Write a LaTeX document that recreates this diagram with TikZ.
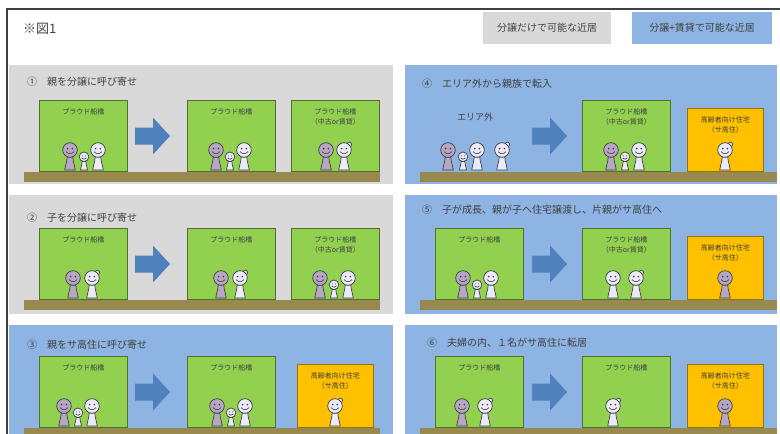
\documentclass[tikz,border=0pt]{standalone}
\usepackage{fontspec}
\setmainfont{Noto Sans CJK JP}
\definecolor{ink}{RGB}{64, 64, 64}
\definecolor{panelgrey}{RGB}{217, 217, 217}
\definecolor{panelblue}{RGB}{141, 180, 226}
\definecolor{flatgreen}{RGB}{146, 208, 80}
\definecolor{flatedge}{RGB}{84, 112, 44}
\definecolor{senior}{RGB}{255, 192, 0}
\definecolor{senioredge}{RGB}{150, 112, 20}
\definecolor{soil}{RGB}{152, 137, 78}
\definecolor{movearrow}{RGB}{79, 129, 189}
\definecolor{dadskin}{RGB}{182, 166, 196}
\definecolor{paleskin}{RGB}{234, 234, 248}
\usepackage{tikz}
\usetikzlibrary{positioning}
\tikzset{
  panel/.style={anchor=north west, inner sep=0, minimum width=384pt, minimum height=119pt},
  widepanel/.style={panel, minimum width=372pt},
  legend/.style={inner sep=0, minimum height=32pt, text=ink, font=\fontsize{10}{12}\selectfont},
  title/.style={anchor=west, inner sep=0, text=ink, font=\fontsize{10}{12}\selectfont},
  flat/.style={anchor=south west, fill=flatgreen, draw=flatedge, line width=.8pt,
    inner sep=0, minimum width=88pt, minimum height=71pt},
  home/.style={anchor=south west, fill=senior, draw=senioredge, line width=.8pt,
    inner sep=0, minimum width=76pt, minimum height=63pt},
  caption/.style={inner sep=0, align=center, text=ink, font=\fontsize{7}{10.5}\selectfont},
  ground/.style={anchor=north west, fill=soil, inner sep=0, minimum height=10pt},
  adult/.pic={
    \filldraw[fill=#1, draw=ink, line width=.7pt]
      (-2.8,-13) .. controls (-3.2,-6) and (-5.2,-4) .. (-5.3,0)
      -- (5.3,0) .. controls (5.2,-4) and (3.2,-6) .. (2.8,-13) -- cycle;
    \filldraw[fill=#1, draw=ink, line width=.7pt] (0,-20) circle (7.3pt);
    \fill[ink] (-2.3,-21.4) circle (.9pt) (2.3,-21.4) circle (.9pt);
    \draw[ink, line width=.6pt] (-3.8,-18.4) .. controls (-2,-15.6) and (2,-15.6) .. (3.8,-18.4);
  },
  kid/.pic={\pic[scale=.66] {adult=paleskin};},
  granny/.pic={
    \filldraw[fill=paleskin, draw=ink, line width=.7pt] (5.4,-25.6) circle (2.2pt);
    \pic {adult=paleskin};
  },
  bigarrow/.pic={
    \fill[movearrow] (0,8.5) -- (18,8.5) -- (18,18.5) -- (35,0)
      -- (18,-18.5) -- (18,-8.5) -- (0,-8.5) -- cycle;
  }
}

\begin{document}
\begin{tikzpicture}[x=1pt, y=-1pt]
  \useasboundingbox (0,0) rectangle (780,434);
  \draw[ink, line width=1.8pt] (7,434) -- (7,9) -- (780,9);

  \node[anchor=west, inner sep=0, text=ink, font=\fontsize{13}{15}\selectfont] (fig) at (23,29) {※図1};
  \node[legend, fill=panelgrey, minimum width=128pt, anchor=north west] (keygrey) at (483,12) {分譲だけで可能な近居};
  \node[legend, fill=panelblue, minimum width=140pt, anchor=north west] (keyblue) at (632,12) {分譲+賃貸で可能な近居};

  % left column
  \node[panel, fill=panelgrey] (p1) at (9,65) {};
  \node[panel, fill=panelgrey] (p2) at (9,195) {};
  \node[panel, fill=panelblue, minimum height=109pt] (p3) at (9,325) {};
  % right column
  \node[widepanel, fill=panelblue] (p4) at (405,65) {};
  \node[widepanel, fill=panelblue] (p5) at (405,195) {};
  \node[widepanel, fill=panelblue, minimum height=109pt] (p6) at (405,325) {};

  \node[title] (t1) at (27,82) {①　親を分譲に呼び寄せ};
  \node[title] (t2) at (27,218) {②　子を分譲に呼び寄せ};
  \node[title] (t3) at (27,345) {③　親をサ高住に呼び寄せ};
  \node[title] (t4) at (422,84) {④　エリア外から親族で転入};
  \node[title] (t5) at (422,210) {⑤　子が成長、親が子へ住宅譲渡し、片親がサ高住へ};
  \node[title] (t6) at (427,343) {⑥　夫婦の内、１名がサ高住に転居};

  \node[ground, minimum width=356pt] (g1) at (24,172) {};
  \node[ground, minimum width=356pt] (g2) at (24,300) {};
  \node[ground, minimum width=356pt, minimum height=6pt] (g3) at (24,428) {};
  \node[ground, minimum width=357pt] (g4) at (420,172) {};
  \node[ground, minimum width=357pt] (g5) at (420,300) {};
  \node[ground, minimum width=357pt, minimum height=6pt] (g6) at (420,428) {};

  % (1)
  \node[flat] (b1a) at (39,172) {};
  \node[caption, below=8pt of b1a.north] {プラウド船橋};
  \pic at (135,136) {bigarrow};
  \node[flat] (b1b) at (187,172) {};
  \node[caption, below=8pt of b1b.north] {プラウド船橋};
  \node[flat] (b1c) at (291,172) {};
  \node[caption, below=8pt of b1c.north] {プラウド船橋\\（中古or賃貸）};
  \pic at (70,170) {adult=dadskin};
  \pic at (84,170) {kid};
  \pic at (98,170) {adult=paleskin};
  \pic at (216,170) {adult=dadskin};
  \pic at (230,170) {kid};
  \pic at (244,170) {adult=paleskin};
  \pic at (326,170) {adult=dadskin};
  \pic at (344,170) {granny};

  % (2)
  \node[flat] (b2a) at (39,300) {};
  \node[caption, below=8pt of b2a.north] {プラウド船橋};
  \pic at (135,264) {bigarrow};
  \node[flat] (b2b) at (187,300) {};
  \node[caption, below=8pt of b2b.north] {プラウド船橋};
  \node[flat] (b2c) at (291,300) {};
  \node[caption, below=8pt of b2c.north] {プラウド船橋\\（中古or賃貸）};
  \pic at (73,298) {adult=dadskin};
  \pic at (92,298) {granny};
  \pic at (221,298) {adult=dadskin};
  \pic at (240,298) {granny};
  \pic at (320,298) {adult=dadskin};
  \pic at (334,298) {kid};
  \pic at (348,298) {adult=paleskin};

  % (3)
  \node[flat] (b3a) at (39,428) {};
  \node[caption, below=8pt of b3a.north] {プラウド船橋};
  \pic at (135,392) {bigarrow};
  \node[flat] (b3b) at (187,428) {};
  \node[caption, below=8pt of b3b.north] {プラウド船橋};
  \node[home] (h3) at (297,428) {};
  \node[caption, below=8pt of h3.north] {高齢者向け住宅\\（サ高住）};
  \pic at (64,426) {adult=dadskin};
  \pic at (78,426) {kid};
  \pic at (92,426) {adult=paleskin};
  \pic at (217,426) {adult=dadskin};
  \pic at (231,426) {kid};
  \pic at (245,426) {adult=paleskin};
  \pic at (335,426) {granny};

  % (4)
  \node[caption, font=\fontsize{9}{11}\selectfont] (away) at (475,117) {エリア外};
  \pic at (532,136) {bigarrow};
  \node[flat] (b4b) at (582,172) {};
  \node[caption, below=8pt of b4b.north] {プラウド船橋\\（中古or賃貸）};
  \node[home] (h4) at (687,172) {};
  \node[caption, below=8pt of h4.north] {高齢者向け住宅\\（サ高住）};
  \pic at (448,170) {adult=dadskin};
  \pic at (463,170) {kid};
  \pic at (477,170) {adult=paleskin};
  \pic at (502,170) {granny};
  \pic at (611,170) {adult=dadskin};
  \pic at (625,170) {kid};
  \pic at (639,170) {adult=paleskin};
  \pic at (725,170) {granny};

  % (5)
  \node[flat] (b5a) at (435,300) {};
  \node[caption, below=8pt of b5a.north] {プラウド船橋};
  \pic at (532,264) {bigarrow};
  \node[flat] (b5b) at (582,300) {};
  \node[caption, below=8pt of b5b.north] {プラウド船橋\\（中古or賃貸）};
  \node[home] (h5) at (687,300) {};
  \node[caption, below=8pt of h5.north] {高齢者向け住宅\\（サ高住）};
  \pic at (463,298) {adult=dadskin};
  \pic at (477,298) {kid};
  \pic at (491,298) {adult=paleskin};
  \pic at (613,298) {adult=paleskin};
  \pic at (636,298) {granny};
  \pic at (725,298) {adult=dadskin};

  % (6)
  \node[flat] (b6a) at (435,428) {};
  \node[caption, below=8pt of b6a.north] {プラウド船橋};
  \pic at (532,392) {bigarrow};
  \node[flat] (b6b) at (582,428) {};
  \node[caption, below=8pt of b6b.north] {プラウド船橋};
  \node[home] (h6) at (687,428) {};
  \node[caption, below=8pt of h6.north] {高齢者向け住宅\\（サ高住）};
  \pic at (462,426) {adult=dadskin};
  \pic at (485,426) {granny};
  \pic at (613,426) {granny};
  \pic at (725,426) {adult=dadskin};
\end{tikzpicture}
\end{document}
